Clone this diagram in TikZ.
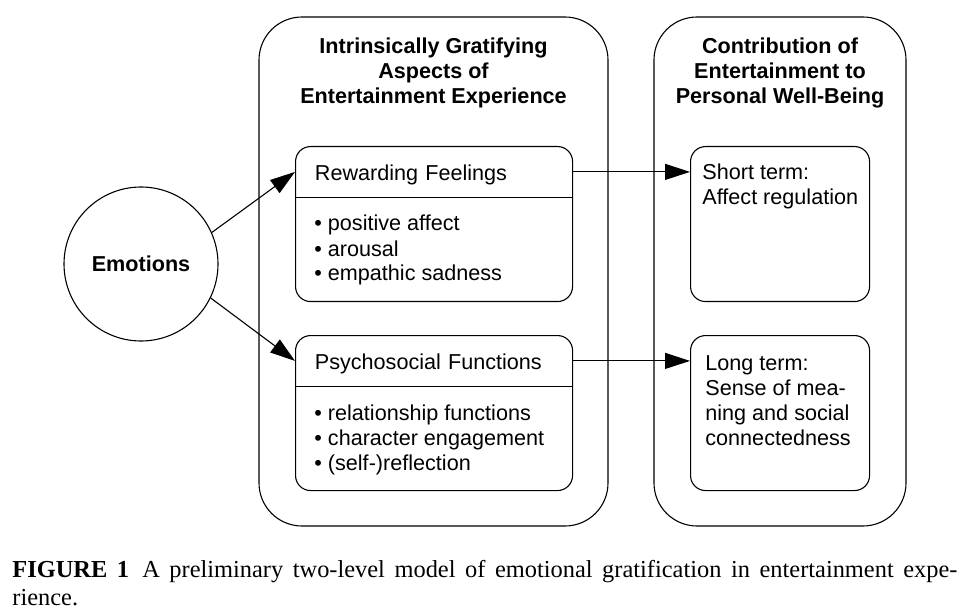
\documentclass[tikz,border=0pt]{standalone}
\usepackage{fontspec}
\setmainfont{Liberation Serif}
\setsansfont{Liberation Sans}
\usetikzlibrary{arrows.meta,calc}
\tikzset{
	outerbox/.style={draw, line width=0.55pt, rounded corners=21.5pt, minimum height=254.5pt, inner sep=0pt},
	innerbox/.style={draw, line width=0.55pt, rounded corners=7.5pt, minimum height=77.5pt, inner sep=0pt},
	headline/.style={inner xsep=9.75pt, inner ysep=0pt, text width=119pt, minimum height=25.5pt, text height=10pt, text depth=1.5pt, font=\sffamily\fontsize{10.8}{12.5}\selectfont},
	titletext/.style={align=center, inner sep=0pt, font=\sffamily\bfseries\fontsize{10.8}{12.5}\selectfont},
	bodytext/.style={align=left, inner sep=0pt, font=\sffamily\fontsize{10.8}{12.5}\selectfont},
	flow/.style={line width=0.55pt, -{Triangle[length=12.5pt,width=8pt]}},
}

\begin{document}
\begin{tikzpicture}[x=0.5pt, y=-0.5pt]
			%%%%% START %%%%%
			\useasboundingbox (0,0) rectangle (978,614);
			
			\node[draw, circle, line width=0.55pt, minimum size=77pt, inner sep=0pt, font=\sffamily\bfseries\fontsize{10.8}{12.5}\selectfont] (emo) at (141,264) {Emotions};
			
			\node[outerbox, minimum width=174.5pt] (gratbox) at (433.5,271.5) {};
			\node[titletext, anchor=base] (grattitle) at (433.5,104) {Intrinsically Gratifying\\Aspects of\\Entertainment Experience};
			
			\node[outerbox, minimum width=126pt] (wellbox) at (780,271.5) {};
			\node[titletext, anchor=base] (welltitle) at (780,104) {Contribution of\\Entertainment to\\Personal Well-Being};
			
			\node[innerbox, minimum width=138.5pt, anchor=north west] (rwbox) at (295,146) {};
			\node[headline, anchor=north west] (rwhead) at (rwbox.north west) {Rewarding Feelings};
			\draw[line width=0.55pt] (rwhead.south west) -- (rwhead.south east);
			\node[bodytext, anchor=base west] (rwlist) at (314,281) {\textbullet\ positive affect\\\textbullet\ arousal\\\textbullet\ empathic sadness};
			
			\node[innerbox, minimum width=138.5pt, anchor=north west] (psybox) at (295,335) {};
			\node[headline, anchor=north west] (psyhead) at (psybox.north west) {Psychosocial Functions};
			\draw[line width=0.55pt] (psyhead.south west) -- (psyhead.south east);
			\node[bodytext, anchor=base west] (psylist) at (314,470) {\textbullet\ relationship functions\\\textbullet\ character engagement\\\textbullet\ (self-)reflection};
			
			\node[innerbox, minimum width=89.5pt, anchor=north west] (shortbox) at (690,146) {};
			\node[bodytext, anchor=base west] (shorttext) at (702,205) {Short term:\\Affect regulation};
			
			\node[innerbox, minimum width=89.5pt, anchor=north west] (longbox) at (690,335) {};
			\node[bodytext, anchor=base west] (longtext) at (705,445) {Long term:\\Sense of mea-\\ning and social\\connectedness};
			
			\draw[flow] (emo.24) -- (rwhead.west);
			\draw[flow] (emo.-26) -- (psyhead.west);
			\draw[flow] (rwhead.east) -- (shortbox.west |- rwhead.east);
			\draw[flow] (psyhead.east) -- (longbox.west |- psyhead.east);
			
			\node[anchor=base west, text width=472.5pt, inner sep=0pt, font=\fontsize{12.2}{14}\selectfont] (caption) at (12,577) {\spaceskip=0.25em plus 1em minus 0.05em\relax\hbox to 472.5pt{\textbf{FIGURE 1}\hspace{0.15em} A preliminary two-level model of emotional gratification in entertainment expe-}\\rience.};
			
			%%%%% END %%%%%
\end{tikzpicture}
\end{document}
